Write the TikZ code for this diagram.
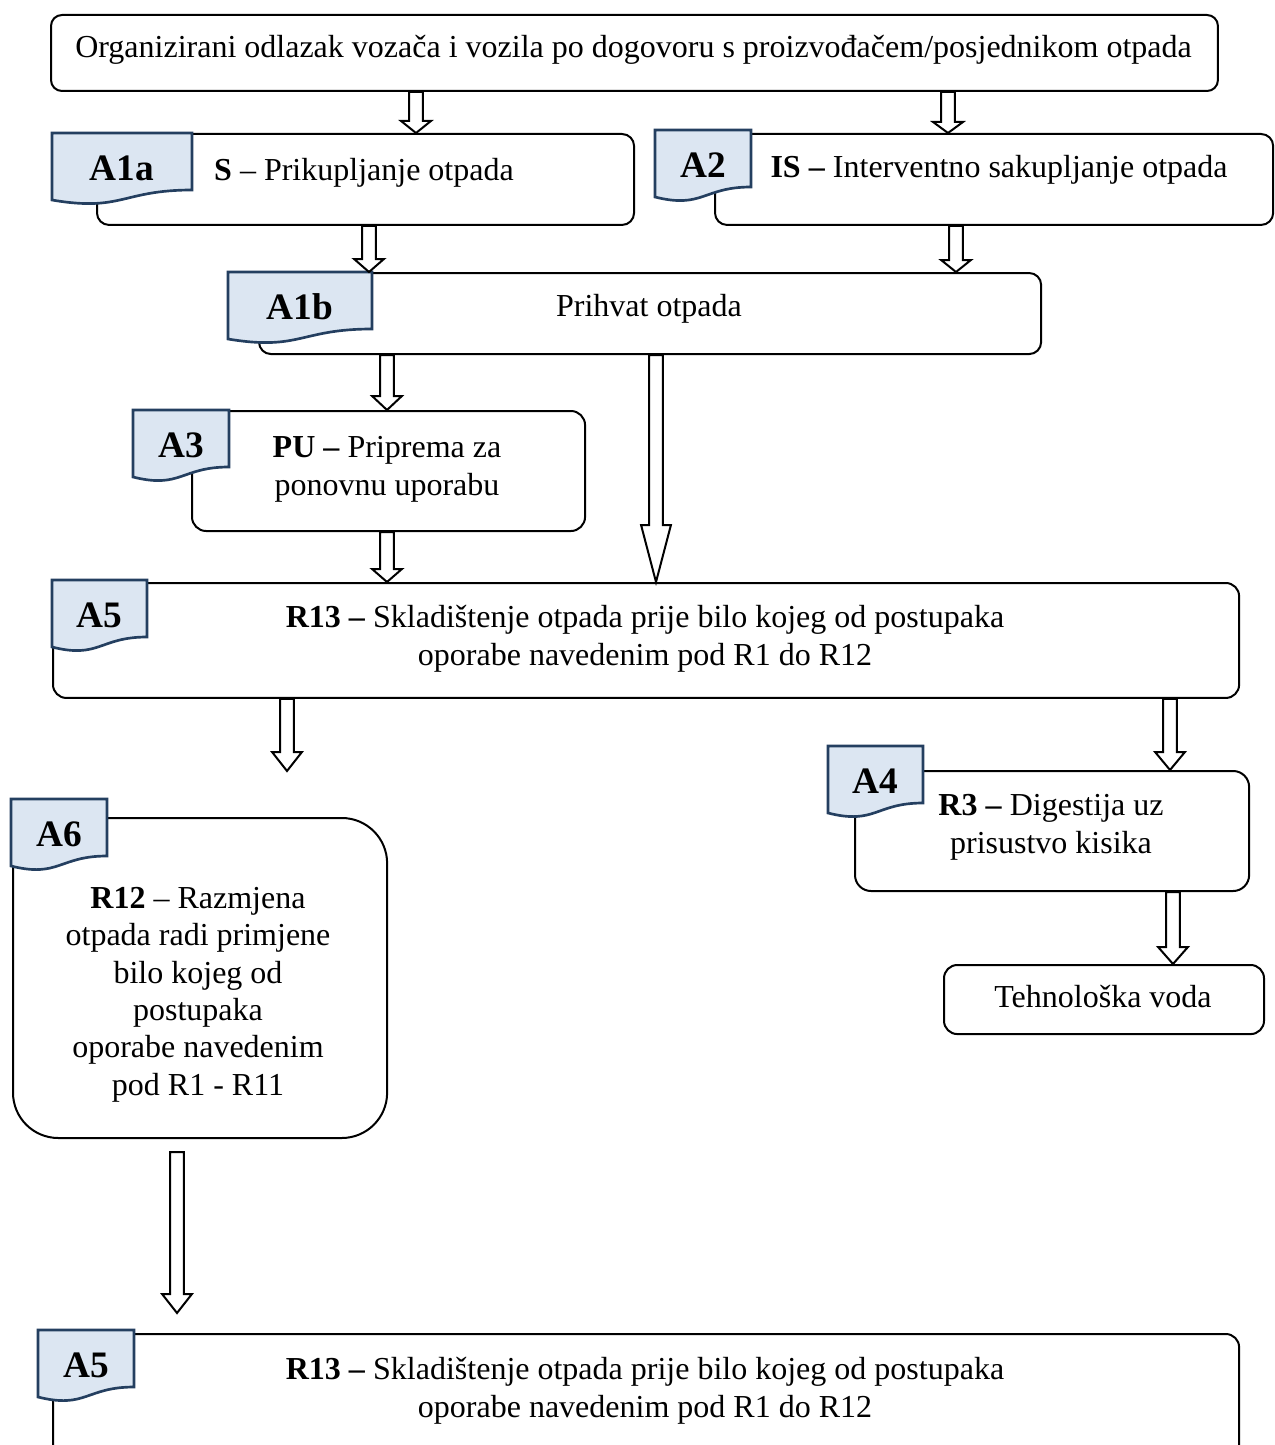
\documentclass[tikz,border=0pt]{standalone}
\usepackage{fontspec}
\setmainfont{Liberation Serif}
\usepackage{tikz}
\usetikzlibrary{calc}

\definecolor{tagfill}{HTML}{DCE6F2}
\definecolor{tagline}{HTML}{243F60}

\tikzset{
  box/.style={draw, line width=0.75pt, anchor=north west, inner sep=0pt},
  txt/.style={font=\fontsize{12pt}{14pt}\selectfont, align=center, inner sep=0pt},
  tagtxt/.style={font=\fontsize{14pt}{16pt}\selectfont\bfseries, inner sep=0pt},
  arrowline/.style={draw, fill=white, line width=0.75pt, line join=miter},
  doc/.style={draw=tagline, fill=tagfill, line width=1pt},
}

% tag with wavy bottom: name, left, top, width, label
\newcommand{\doctag}[5]{%
  \draw[doc] (#2,#3) -- ({#2+#4},#3) -- ({#2+#4},{#3+57})
    .. controls ({#2+0.5*#4},{#3+57}) and ({#2+0.5*#4},{#3+79}) .. (#2,{#3+67}) -- cycle;
  \node[tagtxt] (#1) at ({#2+0.5*#4},{#3+35}) {#5};}

% hollow block arrow: head length, from, to
\newcommand{\hollowarrow}[3][14]{%
  \path[arrowline] let \p1=(#2), \p2=(#3) in
    (\x1-2.6pt,\y1) -- (\x1-2.6pt,\y2+#1*0.375pt) -- (\x1-5.6pt,\y2+#1*0.375pt) -- (\x1,\y2)
    -- (\x1+5.6pt,\y2+#1*0.375pt) -- (\x1+2.6pt,\y2+#1*0.375pt) -- (\x1+2.6pt,\y1) -- cycle;}

\begin{document}
\begin{tikzpicture}[x=0.375pt, y=-0.375pt]
  \useasboundingbox (0,0) rectangle (1274,1445);
  \clip (0,0) rectangle (1274,1445);

  % boxes
  \node[box, rounded corners=4.1pt, minimum width=437.6pt, minimum height=28.5pt] (top) at (50,14) {};
  \node[box, rounded corners=4.5pt, minimum width=201.4pt, minimum height=34.1pt] (a1a) at (96,133) {};
  \node[box, rounded corners=4.5pt, minimum width=209.3pt, minimum height=34.1pt] (a2) at (714,133) {};
  \node[box, rounded corners=4.5pt, minimum width=293.3pt, minimum height=30.4pt] (a1b) at (258,272) {};
  \node[box, rounded corners=5.3pt, minimum width=147.4pt, minimum height=45pt] (a3) at (191,410) {};
  \node[box, rounded corners=5pt, minimum width=444.8pt, minimum height=43.1pt] (a5) at (52,582) {};
  \node[box, rounded corners=6pt, minimum width=147.8pt, minimum height=45pt] (a4) at (854,770) {};
  \node[box, rounded corners=5pt, minimum width=120pt, minimum height=25.9pt] (voda) at (943,964) {};
  \node[box, rounded corners=17pt, minimum width=140.3pt, minimum height=120pt] (a6) at (12,817) {};
  \node[box, rounded corners=5pt, minimum width=444.8pt, minimum height=47pt] (a5b) at (52,1333) {};

  % tags
  \doctag{tag-a1a}{52}{133}{140}{A1a}
  \doctag{tag-a2}{655}{130}{96}{A2}
  \doctag{tag-a1b}{228}{272}{144}{A1b}
  \doctag{tag-a3}{133}{410}{96}{A3}
  \doctag{tag-a5}{52}{580}{95}{A5}
  \doctag{tag-a4}{828}{746}{95}{A4}
  \doctag{tag-a6}{11}{799}{96}{A6}
  \doctag{tag-a5b}{38}{1330}{96}{A5}

  % arrows
  \coordinate (ax1) at (416,0);
  \coordinate (ax2) at (948,0);
  \coordinate (ax3) at (369,0);
  \coordinate (ax4) at (956,0);
  \coordinate (ax5) at (387,0);
  \coordinate (ax6) at (656,0);
  \coordinate (free) at (287,771);
  \coordinate (ax9) at (1170,0);
  \coordinate (ax10) at (1173,0);
  \coordinate (ax11) at (177,0);
  \hollowarrow[12]{top.south -| ax1}{a1a.north -| ax1}
  \hollowarrow[11]{top.south -| ax2}{a2.north -| ax2}
  \hollowarrow[13]{a1a.south -| ax3}{a1b.north -| ax3}
  \hollowarrow[12]{a2.south -| ax4}{a1b.north -| ax4}
  \hollowarrow[14]{a1b.south -| ax5}{a3.north -| ax5}
  \hollowarrow[57]{a1b.south -| ax6}{a5.north -| ax6}
  \hollowarrow[13]{a3.south -| ax5}{a5.north -| ax5}
  \hollowarrow[19]{a5.south -| free}{free}
  \hollowarrow[18]{a5.south -| ax9}{a4.north -| ax9}
  \hollowarrow[17]{a4.south -| ax10}{voda.north -| ax10}
  \hollowarrow[19]{$(a6.south -| ax11)+(0,13)$}{$(a5b.north -| ax11)+(0,-20)$}

  % texts (base = last line)
  \node[txt, anchor=base] (t-top) at (633.5,58) {Organizirani odlazak vozača i vozila po dogovoru s proizvođačem/posjednikom otpada};
  \node[txt, anchor=base] (t-a1a) at (364,180) {\textbf{S} – Prikupljanje otpada};
  \node[txt, anchor=base] (t-a2) at (999,177) {\textbf{IS –} Interventno sakupljanje otpada};
  \node[txt, anchor=base] (t-a1b) at (649,316) {Prihvat otpada};
  \node[txt, anchor=base] (t-a3) at (387,495) {\textbf{PU –} Priprema za\\ponovnu uporabu};
  \node[txt, anchor=base] (t-a5) at (645,665) {\textbf{R13 –} Skladištenje otpada prije bilo kojeg od postupaka\\oporabe navedenim pod R1 do R12};
  \node[txt, anchor=base] (t-a4) at (1051,853) {\textbf{R3 –} Digestija uz\\prisustvo kisika};
  \node[txt, anchor=base] (t-voda) at (1103,1007) {Tehnološka voda};
  \node[txt, anchor=base] (t-a6) at (198,1095) {\textbf{R12} – Razmjena\\otpada radi primjene\\bilo kojeg od\\postupaka\\oporabe navedenim\\pod R1 - R11};
  \node[txt, anchor=base] (t-a5b) at (645,1417) {\textbf{R13 –} Skladištenje otpada prije bilo kojeg od postupaka\\oporabe navedenim pod R1 do R12};
\end{tikzpicture}
\end{document}
